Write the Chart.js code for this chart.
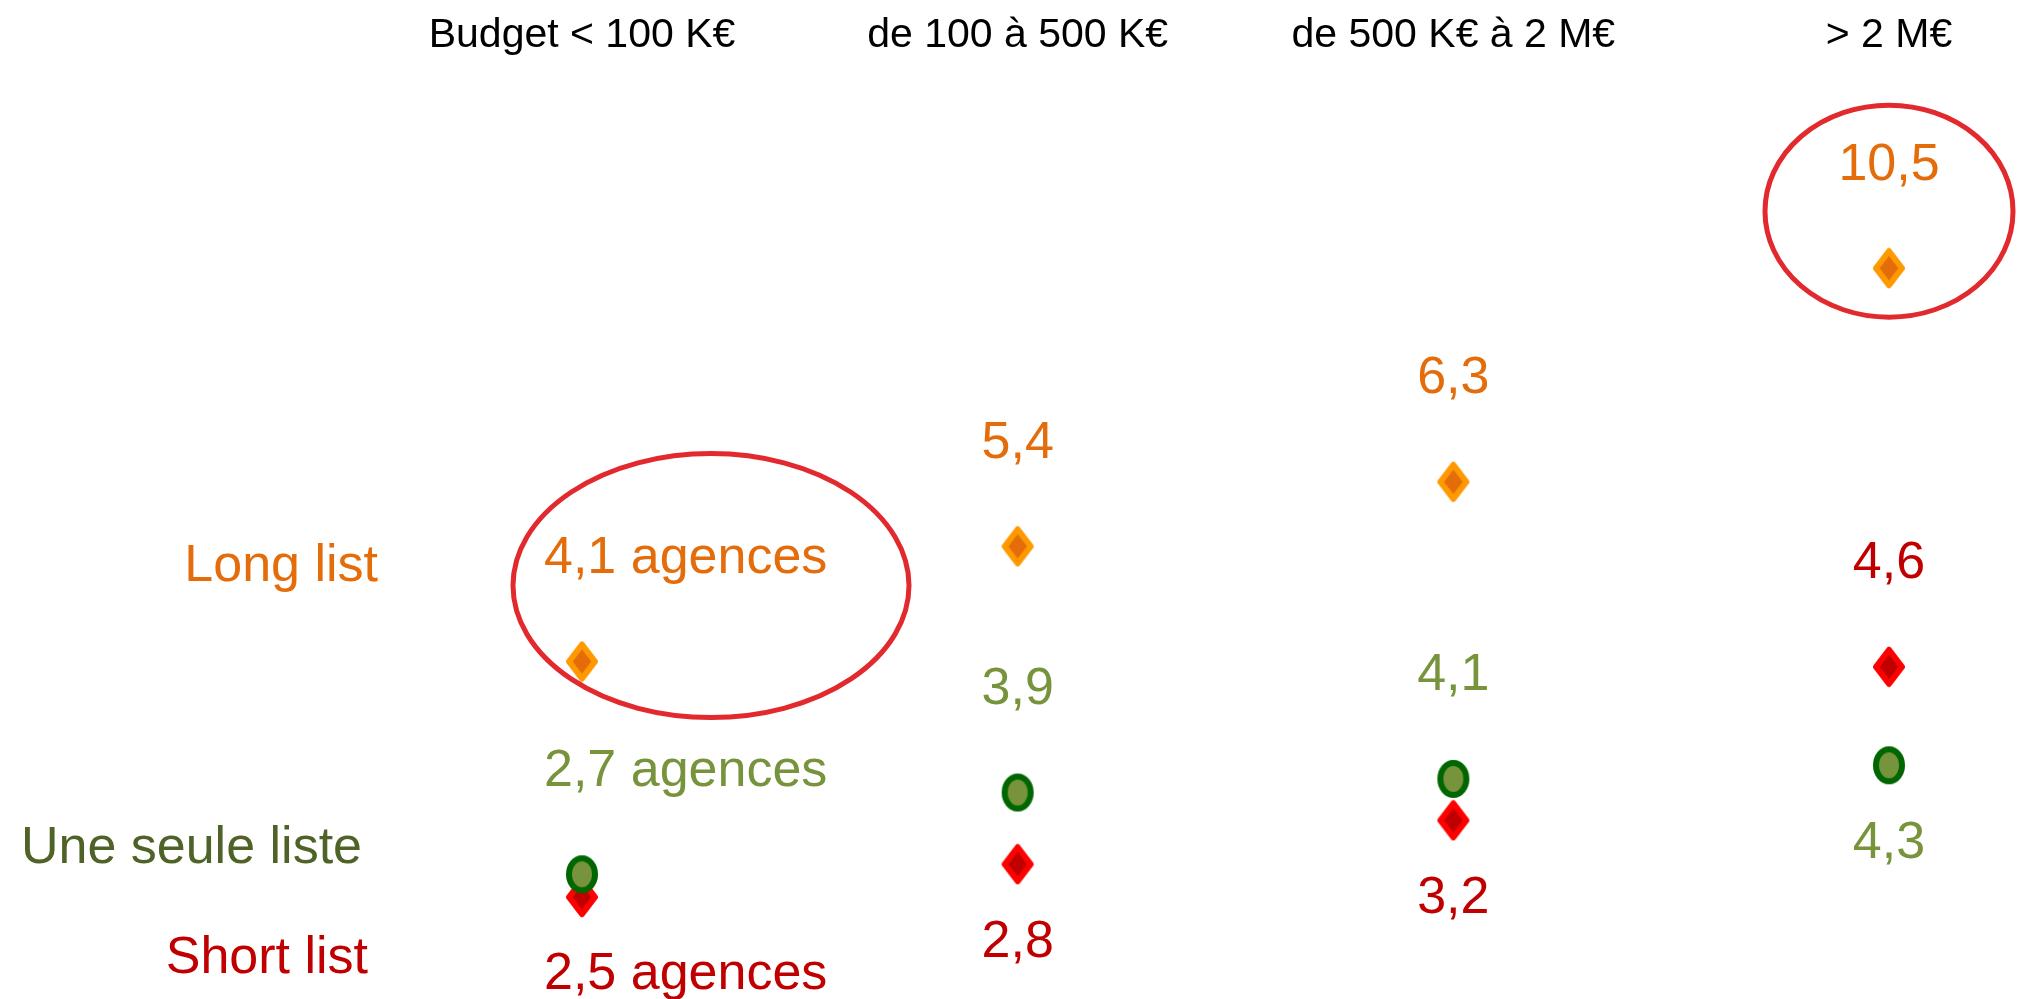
<!DOCTYPE html>
<html>
<head>
<meta charset="utf-8">
<script src="https://cdn.jsdelivr.net/npm/chart.js@4"></script>
<style>
  html, body { margin: 0; padding: 0; background: #fff; }
  #wrap { width: 2022px; height: 999px; position: relative; }
</style>
</head>
<body>
<div id="wrap"><canvas id="agencesChart"></canvas></div>
<script>
var categories = ['Budget < 100 K€', 'de 100 à 500 K€', 'de 500 K€ à 2 M€', '> 2 M€'];
var longList = [4.1, 5.4, 6.3, 10.5];
var uneSeuleListe = [2.7, 3.9, 4.1, 4.3];
var shortList = [2.5, 2.8, 3.2, 4.6];
var labelSuffix = [' agences', '', '', ''];

Chart.defaults.font.family = '"Liberation Sans", Arial, sans-serif';

// marqueurs un peu étirés en hauteur, comme dans l'original
function makeMarker(shape, fill, stroke) {
  var c = document.createElement('canvas');
  c.width = 34;
  c.height = 42;
  var g = c.getContext('2d');
  g.lineWidth = 6;
  g.lineJoin = 'round';
  g.fillStyle = fill;
  g.strokeStyle = stroke;
  g.beginPath();
  if (shape === 'diamond') {
    g.moveTo(17, 4); g.lineTo(30, 21); g.lineTo(17, 38); g.lineTo(4, 21); g.closePath();
  } else {
    g.ellipse(17, 21, 13, 16, 0, 0, Math.PI * 2);
  }
  g.fill();
  g.stroke();
  return c;
}

var labelPlugin = {
  id: 'pointLabels',
  afterDatasetsDraw: function (chart, args, opts) {
    var ctx = chart.ctx;
    ctx.save();
    ctx.font = '52px "Liberation Sans", Arial, sans-serif';
    ctx.textBaseline = 'middle';
    chart.data.datasets.forEach(function (ds, i) {
      var meta = chart.getDatasetMeta(i);
      ctx.fillStyle = ds.labelColor;
      meta.data.forEach(function (pt, j) {
        var txt = ds.data[j].toFixed(1).replace('.', ',') + labelSuffix[j];
        var y = pt.y + (ds.labelSide[j] === 'top' ? -103 : 78);
        if (j === 0) {
          ctx.textAlign = 'left';
          ctx.fillText(txt, pt.x - 38, y);
        } else {
          ctx.textAlign = 'center';
          ctx.fillText(txt, pt.x, y);
        }
      });
      // nom de la série à gauche
      var first = meta.data[0];
      ctx.textAlign = 'right';
      ctx.fillStyle = ds.rowColor;
      ctx.fillText(ds.label, first.x + ds.rowDx, first.y + ds.rowDy);
    });

    // cercles rouges de mise en avant
    var orange = chart.getDatasetMeta(0);
    ctx.strokeStyle = '#E2292E';
    ctx.lineWidth = 5;
    opts.highlights.forEach(function (h) {
      var pt = orange.data[h.index];
      ctx.beginPath();
      ctx.ellipse(pt.x + h.dx, pt.y + h.dy, h.rx, h.ry, 0, 0, Math.PI * 2);
      ctx.stroke();
    });
    ctx.restore();
  }
};

var ctx = document.getElementById('agencesChart').getContext('2d');
var agencesChart = new Chart(ctx, {
  type: 'line',
  data: {
    labels: categories,
    datasets: [{
      label: 'Long list',
      data: longList,
      yAxisID: 'yLong',
      pointStyle: makeMarker('diamond', '#E46C0A', '#FF9900'),
      labelColor: '#E46C0A',
      rowColor: '#E46C0A',
      rowDx: -204,
      rowDy: -95,
      labelSide: ['top', 'top', 'top', 'top']
    }, {
      label: 'Une seule liste',
      data: uneSeuleListe,
      yAxisID: 'ySeule',
      pointStyle: makeMarker('circle', '#77933C', '#006600'),
      labelColor: '#77933C',
      rowColor: '#4F6228',
      rowDx: -220,
      rowDy: -26,
      labelSide: ['top', 'top', 'top', 'bottom']
    }, {
      label: 'Short list',
      data: shortList,
      yAxisID: 'yShort',
      pointStyle: makeMarker('diamond', '#C00000', '#FF0000'),
      labelColor: '#C00000',
      rowColor: '#C00000',
      rowDx: -214,
      rowDy: 62,
      labelSide: ['bottom', 'bottom', 'bottom', 'top']
    }]
  },
  options: {
    responsive: true,
    maintainAspectRatio: false,
    animation: false,
    events: [],
    showLine: false,
    clip: false,
    layout: { padding: { left: 582, right: 133, top: 8, bottom: 0 } },
    plugins: {
      legend: { display: false },
      tooltip: { enabled: false },
      pointLabels: {
        highlights: [
          { index: 0, dx: 129, dy: -76, rx: 198, ry: 132 },
          { index: 3, dx: 0, dy: -57, rx: 124, ry: 106 }
        ]
      }
    },
    scales: {
      x: {
        type: 'category',
        position: 'top',
        offset: false,
        grid: { display: false, drawTicks: false },
        border: { display: false },
        ticks: { color: '#000', font: { size: 41 }, padding: 3, maxRotation: 0, autoSkip: false }
      },
      yLong: { type: 'logarithmic', display: false, bounds: 'data', min: 1.852, max: 17.14 },
      ySeule: { type: 'linear', display: false, bounds: 'data', min: 0.944, max: 14.6 },
      yShort: { type: 'linear', display: false, bounds: 'data', min: 1.616, max: 10.106 }
    }
  },
  plugins: [labelPlugin]
});
</script>
</body>
</html>
